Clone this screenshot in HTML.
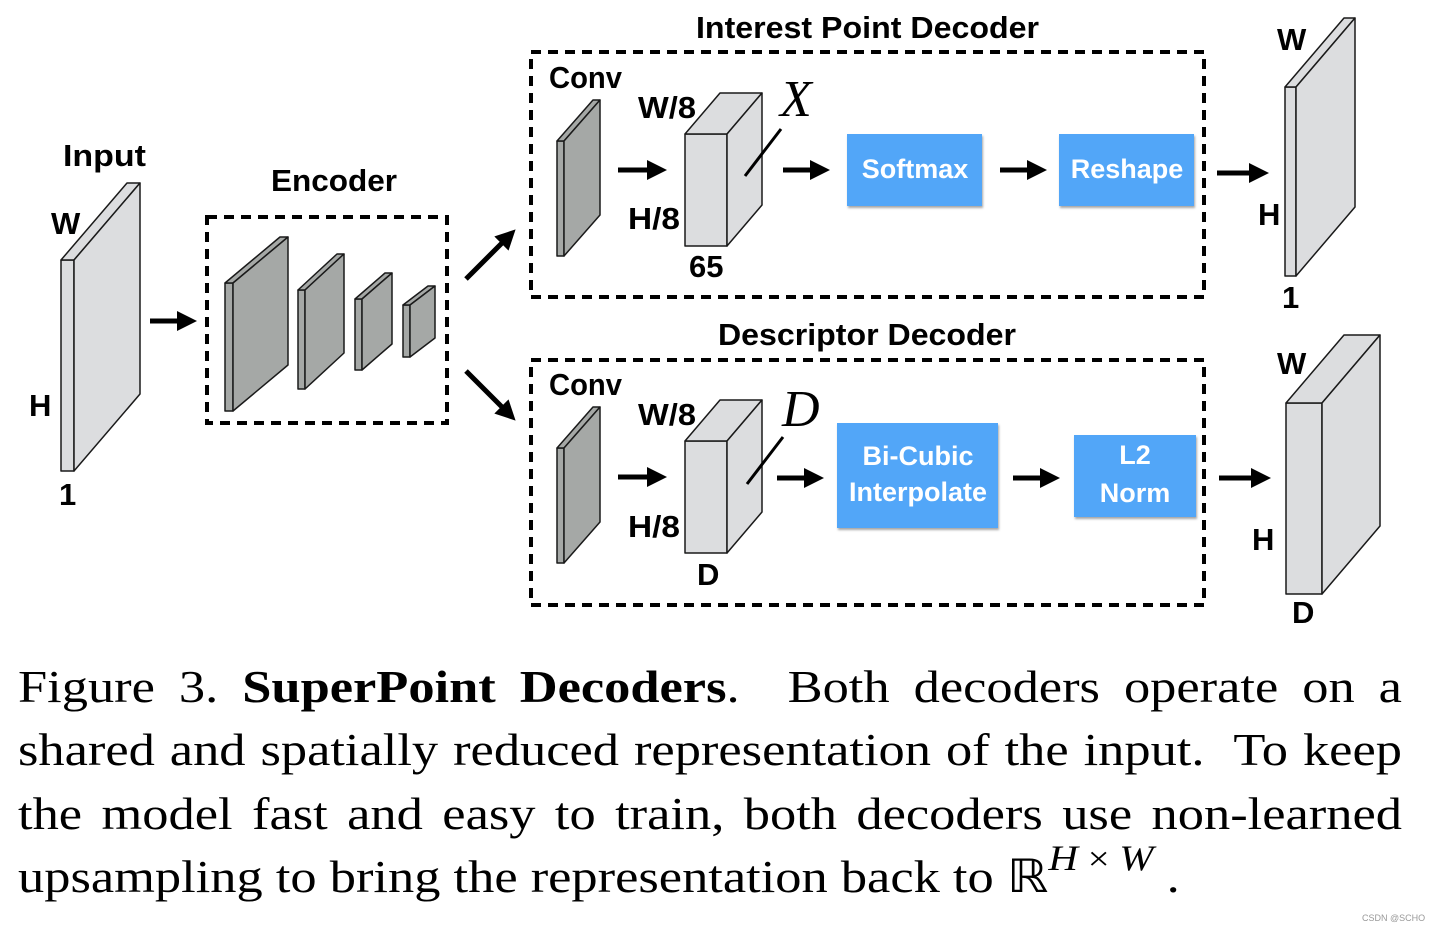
<!DOCTYPE html>
<html><head><meta charset="utf-8"><style>
html,body{margin:0;padding:0;background:#fff;width:1438px;height:932px;overflow:hidden;position:relative}
svg{position:absolute;left:0;top:0}
.cap{position:absolute;left:18px;width:1214px;font-family:"Liberation Serif",serif;font-size:46px;color:#000;white-space:nowrap;line-height:1;transform:scaleX(1.14);transform-origin:0 0}
.j{text-align:justify;text-align-last:justify}
.wm{position:absolute;left:1362px;top:913px;font-family:"Liberation Sans",sans-serif;font-size:9px;color:#999}
</style></head><body>
<svg width="1438" height="932" viewBox="0 0 1438 932">
<defs>
<marker id="ah" markerWidth="4" markerHeight="4" refX="1" refY="2" orient="auto" markerUnits="strokeWidth"><path d="M0,0 L4,2 L0,4 Z" fill="#000"/></marker>
</defs>
<g stroke="#1a1a1a" stroke-width="1.5" stroke-linejoin="round">
<rect x="61" y="260" width="13" height="211" fill="#dcdddf"/>
<polygon points="61,260 127,183 140,183 74,260" fill="#dcdddf"/>
<polygon points="74,260 140,183 140,394 74,471" fill="#dcdddf"/>
<g fill="#a5a8a6">
<rect x="225" y="283" width="8" height="128"/><polygon points="225,283 280,237 288,237 233,283"/><polygon points="233,283 288,237 288,365 233,411"/>
<rect x="298" y="290" width="7" height="99"/><polygon points="298,290 337,254 344,254 305,290"/><polygon points="305,290 344,254 344,353 305,389"/>
<rect x="355" y="299" width="7" height="71"/><polygon points="355,299 385,273 392,273 362,299"/><polygon points="362,299 392,273 392,344 362,370"/>
<rect x="403" y="305" width="7" height="52"/><polygon points="403,305 428,286 435,286 410,305"/><polygon points="410,305 435,286 435,338 410,357"/>
<rect x="557" y="141" width="7" height="115"/><polygon points="557,141 593,100 600,100 564,141"/><polygon points="564,141 600,100 600,215 564,256"/>
<rect x="557" y="448" width="7" height="115"/><polygon points="557,448 593,407 600,407 564,448"/><polygon points="564,448 600,407 600,522 564,563"/>
</g>
<g fill="#dcdddf">
<rect x="685" y="134" width="42" height="112"/><polygon points="685,134 720,93 762,93 727,134"/><polygon points="727,134 762,93 762,205 727,246"/>
<rect x="685" y="441" width="42" height="112"/><polygon points="685,441 720,400 762,400 727,441"/><polygon points="727,441 762,400 762,512 727,553"/>
<rect x="1285" y="87" width="11" height="189"/><polygon points="1285,87 1344,18 1355,18 1296,87"/><polygon points="1296,87 1355,18 1355,207 1296,276"/>
<rect x="1286" y="403" width="36" height="191"/><polygon points="1286,403 1344,335 1380,335 1322,403"/><polygon points="1322,403 1380,335 1380,526 1322,594"/>
</g>
</g>
<g fill="none" stroke="#000" stroke-width="4" stroke-dasharray="10,7">
<rect x="207" y="217" width="240" height="206"/>
<rect x="531" y="52" width="673" height="245"/>
<rect x="531" y="360" width="673" height="245"/>
</g>
<g stroke="#000" stroke-width="3"><line x1="745" y1="176" x2="781" y2="129"/><line x1="747" y1="484" x2="783" y2="437"/></g>
<g stroke="#000" stroke-width="5" marker-end="url(#ah)">
<line x1="150" y1="321" x2="182" y2="321"/>
<line x1="618" y1="170" x2="652" y2="170"/>
<line x1="783" y1="170" x2="815" y2="170"/>
<line x1="1000" y1="170" x2="1032" y2="170"/>
<line x1="1217" y1="173" x2="1254" y2="173"/>
<line x1="618" y1="477" x2="652" y2="477"/>
<line x1="777" y1="478" x2="809" y2="478"/>
<line x1="1013" y1="478" x2="1045" y2="478"/>
<line x1="1219" y1="478" x2="1256" y2="478"/>
<line x1="466" y1="279" x2="505" y2="240"/>
<line x1="466" y1="371" x2="505" y2="410"/>
</g>
<g fill="#52a6f8" style="filter:drop-shadow(1px 2px 1px rgba(0,0,0,0.35))">
<rect x="847" y="134" width="135" height="72"/>
<rect x="1059" y="134" width="135" height="72"/>
<rect x="837" y="423" width="161" height="105"/>
<rect x="1074" y="435" width="122" height="82"/>
</g>
<g font-family="'Liberation Sans',sans-serif" font-weight="bold" font-size="27" fill="#fff" text-anchor="middle">
<text x="915" y="178">Softmax</text>
<text x="1127" y="178">Reshape</text>
<text x="918" y="465">Bi-Cubic</text>
<text x="918" y="501">Interpolate</text>
<text x="1135" y="464">L2</text>
<text x="1135" y="502">Norm</text>
</g>
<g font-family="'Liberation Sans',sans-serif" font-weight="bold" font-size="31" fill="#000">
<text x="696" y="38" textLength="343" lengthAdjust="spacingAndGlyphs">Interest Point Decoder</text>
<text x="718" y="345" textLength="298" lengthAdjust="spacingAndGlyphs">Descriptor Decoder</text>
<text x="549" y="88" textLength="73" lengthAdjust="spacingAndGlyphs">Conv</text>
<text x="549" y="395" textLength="73" lengthAdjust="spacingAndGlyphs">Conv</text>
<text x="638" y="118" textLength="58" lengthAdjust="spacingAndGlyphs">W/8</text>
<text x="628" y="229" textLength="52" lengthAdjust="spacingAndGlyphs">H/8</text>
<text x="689" y="277">65</text>
<text x="638" y="425" textLength="58" lengthAdjust="spacingAndGlyphs">W/8</text>
<text x="628" y="537" textLength="52" lengthAdjust="spacingAndGlyphs">H/8</text>
<text x="697" y="585">D</text>
<text x="63" y="166" textLength="83" lengthAdjust="spacingAndGlyphs">Input</text>
<text x="271" y="191" textLength="126" lengthAdjust="spacingAndGlyphs">Encoder</text>
<text x="51" y="234">W</text>
<text x="29" y="416">H</text>
<text x="59" y="505">1</text>
<text x="1277" y="50">W</text>
<text x="1258" y="225">H</text>
<text x="1282" y="308">1</text>
<text x="1277" y="374">W</text>
<text x="1252" y="550">H</text>
<text x="1292" y="623">D</text>
</g>
<g font-family="'Liberation Serif',serif" font-style="italic" font-size="52" fill="#000">
<text x="780" y="116">X</text>
<text x="782" y="426">D</text>
</g>
</svg>
<div class="cap j" style="top:664px">Figure 3. <b>SuperPoint Decoders</b>.&nbsp; Both decoders operate on a</div>
<div class="cap j" style="top:727px">shared and spatially reduced representation of the input.&nbsp; To keep</div>
<div class="cap j" style="top:791px">the model fast and easy to train, both decoders use non-learned</div>
<div class="cap" style="top:854px">upsampling to bring the representation back to ℝ<span style="font-style:italic;font-size:36px;position:relative;top:-22px">H</span><span style="font-size:34px;position:relative;top:-22px"> × </span><span style="font-style:italic;font-size:36px;position:relative;top:-22px">W</span> .</div>
<div class="wm">CSDN @SCHO</div>
</body></html>
